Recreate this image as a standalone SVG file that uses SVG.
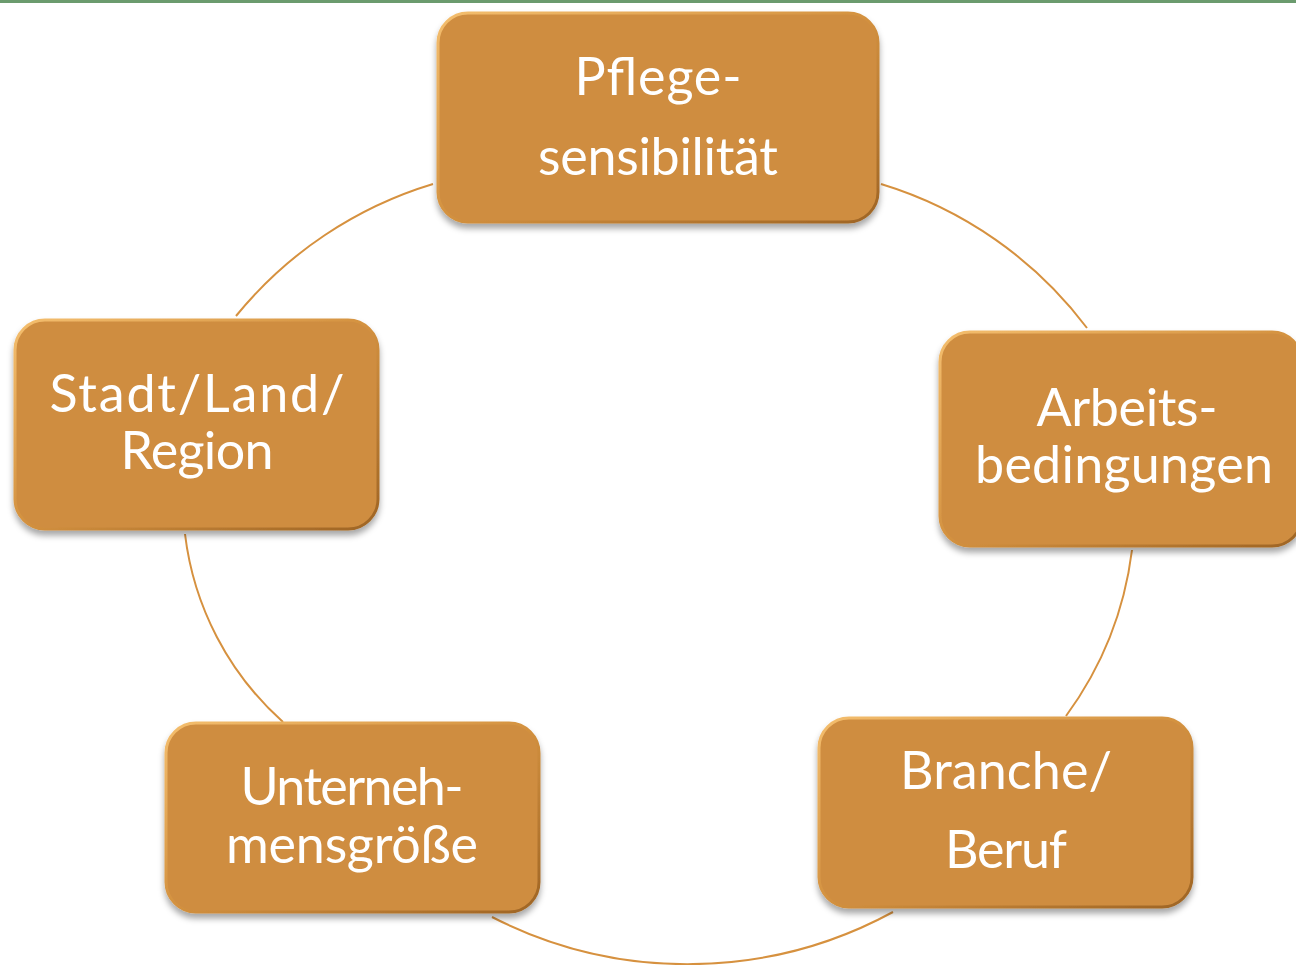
<svg xmlns="http://www.w3.org/2000/svg" width="1296" height="965" viewBox="0 0 1296 965">
<style>
.box{fill:#CF8D41;stroke:url(#bevel);stroke-width:3;filter:url(#sh)}
.lbl{font-family:Lato,"Noto Sans","Liberation Sans",sans-serif;font-size:52px;fill:#FFFFFF;text-anchor:middle}
.arc{fill:none;stroke:#D6913F;stroke-width:2}
</style>
<defs>
<filter id="sh" x="-10%" y="-10%" width="120%" height="130%">
<feDropShadow dx="0" dy="5" stdDeviation="3" flood-color="#000" flood-opacity="0.35"/>
</filter>
<linearGradient id="bevel" x1="0" y1="0" x2="1" y2="1">
<stop offset="0" stop-color="#F4BE6E"/>
<stop offset="0.5" stop-color="#D3913F"/>
<stop offset="1" stop-color="#9E6424"/>
</linearGradient>
</defs>
<rect x="0" y="0" width="1296" height="965" fill="#FFFFFF"/>
<rect x="0" y="0" width="1296" height="3" fill="#6B9B6E"/>
<g id="connectors">
<path class="arc" d="M 881 184 A 405 405 0 0 1 1087 328"/>
<path class="arc" d="M 1132 550 A 355 355 0 0 1 1066 716"/>
<path class="arc" d="M 893 912 A 430 430 0 0 1 492 917"/>
<path class="arc" d="M 283 722 A 300 300 0 0 1 185 534"/>
<path class="arc" d="M 236 316 A 405 405 0 0 1 433 184"/>
</g>
<g id="node-pflege">
<rect class="box" x="438" y="13" width="440" height="209" rx="30"/>
<text class="lbl" x="658" y="95" textLength="167" lengthAdjust="spacing">Pflege-</text>
<text class="lbl" x="658" y="175" textLength="240" lengthAdjust="spacing">sensibilität</text>
</g>
<g id="node-arbeit">
<rect class="box" x="940" y="332" width="362" height="214" rx="30"/>
<text class="lbl" x="1127" y="426" textLength="181" lengthAdjust="spacing">Arbeits-</text>
<text class="lbl" x="1124" y="483" textLength="298" lengthAdjust="spacing">bedingungen</text>
</g>
<g id="node-branche">
<rect class="box" x="819" y="718" width="373" height="189" rx="30"/>
<text class="lbl" x="1006" y="789" textLength="212" lengthAdjust="spacing">Branche/</text>
<text class="lbl" x="1006" y="868" textLength="122" lengthAdjust="spacing">Beruf</text>
</g>
<g id="node-unternehmen">
<rect class="box" x="166" y="723" width="373" height="189" rx="30"/>
<text class="lbl" x="352" y="805" textLength="223" lengthAdjust="spacing">Unterneh-</text>
<text class="lbl" x="352" y="863" textLength="252" lengthAdjust="spacing">mensgröße</text>
</g>
<g id="node-stadt">
<rect class="box" x="15" y="320" width="363" height="209" rx="30"/>
<text class="lbl" x="197" y="412" textLength="295" lengthAdjust="spacing">Stadt/Land/</text>
<text class="lbl" x="197" y="469" textLength="153" lengthAdjust="spacing">Region</text>
</g>
</svg>
